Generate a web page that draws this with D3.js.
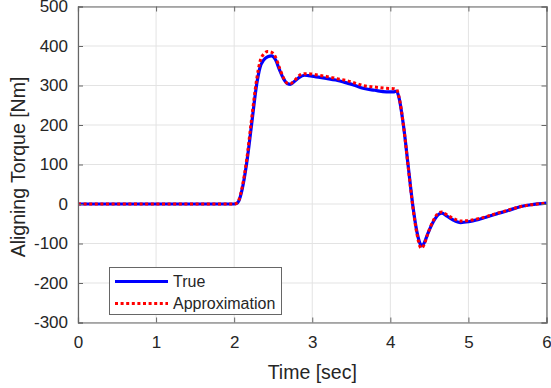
<!DOCTYPE html>
<html><head><meta charset="utf-8">
<script src="https://cdnjs.cloudflare.com/ajax/libs/d3/7.8.5/d3.min.js"></script>
<style>body{margin:0;background:#fff}svg{display:block}text{font-family:Arial,"Liberation Sans",sans-serif;fill:#262626}</style>
</head><body><svg id="c" width="551" height="388"></svg>
<script>
const time = [0, 2.0, 2.03, 2.06, 2.1, 2.16, 2.22, 2.29, 2.33, 2.38, 2.43, 2.48, 2.53, 2.58, 2.63, 2.68, 2.72, 2.77, 2.83, 2.9, 2.95, 3.05, 3.18, 3.3, 3.45, 3.55, 3.65, 3.8, 3.95, 4.04, 4.08, 4.11, 4.17, 4.23, 4.29, 4.34, 4.38, 4.40, 4.43, 4.48, 4.55, 4.62, 4.66, 4.72, 4.8, 4.9, 5.0, 5.15, 5.36, 5.5, 5.66, 5.8, 6.0];
const trueVals = [0, 0, 1, 8, 35, 103, 196, 305, 345, 365, 373, 375, 365, 340, 318, 305, 303, 310, 320, 326, 325, 322, 318, 314, 306, 300, 293, 288, 284, 284, 286, 270, 196, 94, -7, -70, -100, -106, -100, -75, -45, -26, -23, -30, -40, -47, -45, -38, -25, -17, -7, -2, 2];
const approxVals = [0, 0, 2, 10, 40, 112, 210, 318, 360, 380, 386, 384, 372, 345, 320, 306, 305, 312, 325, 330, 330, 327, 323, 318, 312, 306, 300, 296, 293, 292, 290, 272, 196, 92, -10, -75, -108, -112, -104, -75, -42, -22, -20, -27, -36, -43, -42, -36, -24, -16, -7, -2, 2];
const xTicks = [0,1,2,3,4,5,6];
const yTicks = [-300,-200,-100,0,100,200,300,400,500];
const seriesNames = ["True","Approximation"];

const L=78, R=546.5, T=6.5, B=322.5;
const svg = d3.select("#c");
const x = d3.scaleLinear().domain([0,6]).range([L,R]);
const y = d3.scaleLinear().domain([-300,500]).range([B,T]);
const fmt = d => String(d);

// grid
const g = svg.append("g");
g.selectAll(".gx").data(xTicks).join("line").attr("x1",d=>x(d)).attr("x2",d=>x(d)).attr("y1",T).attr("y2",B).attr("stroke","#e3e3e3").attr("stroke-width",1);
g.selectAll(".gy").data(yTicks).join("line").attr("y1",d=>y(d)).attr("y2",d=>y(d)).attr("x1",L).attr("x2",R).attr("stroke","#e3e3e3").attr("stroke-width",1);

// lines
const line = d3.line().x((d,i)=>x(time[i])).y(d=>y(d)).curve(d3.curveMonotoneX);
svg.append("path").attr("d",line(trueVals)).attr("fill","none").attr("stroke","#0000ff").attr("stroke-width",3.2);
svg.append("path").attr("d",line(approxVals)).attr("fill","none").attr("stroke","#ff0000").attr("stroke-width",3).attr("stroke-dasharray","3,2.6");

// axes
const ax = svg.append("g").attr("transform",`translate(0,${B})`).call(d3.axisBottom(x).tickValues(xTicks).tickSize(-5).tickPadding(13).tickFormat(fmt));
const ay = svg.append("g").attr("transform",`translate(${L},0)`).call(d3.axisLeft(y).tickValues(yTicks).tickSize(-5).tickPadding(10).tickFormat(fmt));
const at = svg.append("g").attr("transform",`translate(0,${T})`).call(d3.axisTop(x).tickValues(xTicks).tickSize(-5).tickFormat(""));
const ar = svg.append("g").attr("transform",`translate(${R},0)`).call(d3.axisRight(y).tickValues(yTicks).tickSize(-5).tickFormat(""));
[ax,ay,at,ar].forEach(a=>{a.selectAll("path").attr("stroke","#666").attr("stroke-width",1.2);a.selectAll("line").attr("stroke","#666");a.selectAll("text").style("font-size","17px").attr("fill","#262626").style("font-family","Arial, 'Liberation Sans', sans-serif");});

// labels
svg.append("text").attr("x",(L+R)/2).attr("y",379).attr("text-anchor","middle").style("font-size","19.5px").text("Time [sec]");
svg.append("text").attr("transform",`translate(25,167) rotate(-90)`).attr("text-anchor","middle").style("font-size","19.5px").text("Aligning Torque [Nm]");

// legend
const lg = svg.append("g");
lg.append("rect").attr("x",109.5).attr("y",267.5).attr("width",172).attr("height",47).attr("fill","#fff").attr("stroke","#666").attr("stroke-width",1);
const rows=[{n:seriesNames[0],c:"#0000ff",dash:null,w:3.2,yy:281.5},{n:seriesNames[1],c:"#ff0000",dash:"3,2.6",w:3,yy:303.5}];
rows.forEach(r=>{
  lg.append("line").attr("x1",115).attr("x2",168).attr("y1",r.yy).attr("y2",r.yy).attr("stroke",r.c).attr("stroke-width",r.w).attr("stroke-dasharray",r.dash);
  lg.append("text").attr("x",173).attr("y",r.yy).attr("dy","0.35em").style("font-size","16px").text(r.n);
});
</script></body></html>
